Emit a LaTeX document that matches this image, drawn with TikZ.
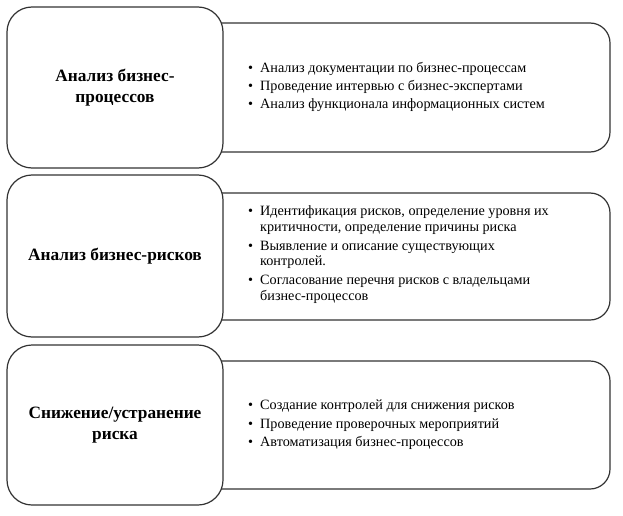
\documentclass[tikz,border=0pt]{standalone}
\usepackage{fontspec}
\setmainfont{Liberation Serif}
\begin{document}
\begin{tikzpicture}[x=1pt,y=-1pt,
  leftbox/.style={draw=black!80, line width=1.2pt, fill=white, rounded corners=25pt,
    minimum width=216pt, inner sep=0pt},
  rightbox/.style={draw=black!80, line width=1.2pt, fill=white, rounded corners=20pt,
    minimum width=430pt, inner sep=0pt},
  ltext/.style={align=center, font=\fontsize{17.3}{20.5}\selectfont\bfseries, inner sep=0pt},
  rtext/.style={anchor=west, align=left, font=\fontsize{14.2}{15.7}\selectfont, inner sep=0pt}
]
\useasboundingbox (0,0) rectangle (623,516);
\newcommand{\bul}{\makebox[12pt][l]{\textbullet}}
% right boxes (drawn first, partly hidden)
\node[rightbox, minimum height=129pt] (r1) at (395,87.5) {};
\node[rightbox, minimum height=127pt] (r2) at (395,256.5) {};
\node[rightbox, minimum height=128pt] (r3) at (395,425) {};
% left boxes
\node[leftbox, minimum height=161pt] (l1) at (115,87.5) {};
\node[leftbox, minimum height=162pt] (l2) at (115,256) {};
\node[leftbox, minimum height=160pt] (l3) at (115,425) {};
% left texts
\node[ltext] (lt1) at (l1.center) {Анализ бизнес-\\процессов};
\node[ltext] (lt2) at (l2.center) {Анализ бизнес-рисков};
\node[ltext] (lt3) at (l3.center) {Снижение/устранение\\риска};
% right texts
\node[rtext] (rt1) at (248,87.5) {%
  \begin{tabular}{@{}l@{}l@{}}
  \bul & Анализ документации по бизнес-процессам\\[2.5pt]
  \bul & Проведение интервью с бизнес-экспертами\\[2.5pt]
  \bul & Анализ функционала информационных систем
  \end{tabular}};
\node[rtext] (rt2) at (248,255) {%
  \begin{tabular}{@{}l@{}l@{}}
  \bul & Идентификация рисков, определение уровня их\\
       & критичности, определение причины риска\\[3pt]
  \bul & Выявление и описание существующих\\
       & контролей.\\[3pt]
  \bul & Согласование перечня рисков с владельцами\\
       & бизнес-процессов
  \end{tabular}};
\node[rtext] (rt3) at (248,425) {%
  \begin{tabular}{@{}l@{}l@{}}
  \bul & Создание контролей для снижения рисков\\[2.5pt]
  \bul & Проведение проверочных мероприятий\\[2.5pt]
  \bul & Автоматизация бизнес-процессов
  \end{tabular}};
\end{tikzpicture}
\end{document}
